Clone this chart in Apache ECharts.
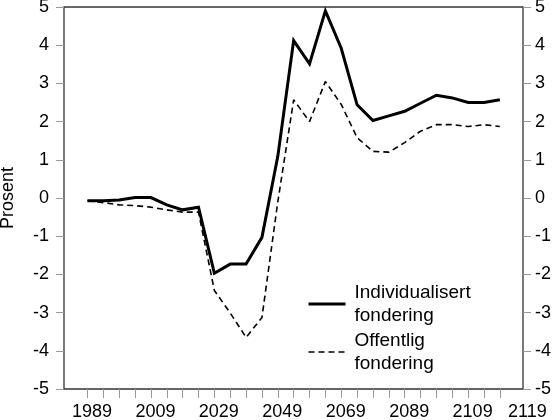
<!DOCTYPE html>
<html>
<head>
<meta charset="utf-8">
<script src="https://cdn.jsdelivr.net/npm/echarts@6/dist/echarts.min.js"></script>
<style>
  html, body { margin: 0; padding: 0; background: #fff; }
  #chart { width: 554px; height: 420px; }
</style>
</head>
<body>
<div id="chart"></div>
<script>
// år (hvert 5. år)
const years = [1989, 1994, 1999, 2004, 2009, 2014, 2019, 2024, 2029, 2034, 2039, 2044, 2049, 2054,
  2059, 2064, 2069, 2074, 2079, 2084, 2089, 2094, 2099, 2104, 2109, 2114, 2119]
const individualisert = [-0.07, -0.07, -0.05, 0.01, 0.01, -0.18, -0.31, -0.24, -1.97, -1.73, -1.73, -1.03, 1.09, 4.12,
  3.51, 4.90, 3.92, 2.44, 2.03, 2.15, 2.27, 2.48, 2.69, 2.62, 2.50, 2.50, 2.57]
const offentlig = [-0.07, -0.12, -0.18, -0.20, -0.24, -0.31, -0.37, -0.37, -2.42, -3.01, -3.65, -3.13, -0.10, 2.57,
  2.00, 3.05, 2.45, 1.58, 1.22, 1.20, 1.45, 1.75, 1.92, 1.92, 1.87, 1.92, 1.87]
const xLabels = [1989, 2009, 2029, 2049, 2069, 2089, 2109, 2119]

const font = "'Liberation Sans', Arial, sans-serif"
const tickColor = '#999'

const chart = echarts.init(document.getElementById('chart'))

const yAxisBase = {
  type: 'value',
  min: -5,
  max: 5,
  interval: 1,
  axisLine: {show: false},
  axisTick: {show: true, inside: false, length: 8, lineStyle: {color: tickColor}},
  splitLine: {show: false},
  axisLabel: {fontFamily: font, fontSize: 18, color: '#000'}
}

chart.setOption({
  animation: false,
  grid: {
    left: 64, right: 31, top: 7, bottom: 31,
    outerBoundsMode: 'none',
    containLabel: false,
    show: true, borderColor: '#333', borderWidth: 1.3, backgroundColor: '#fff'
  },
  legend: {
    orient: 'vertical',
    left: 302,
    top: 276,
    itemWidth: 37,
    itemHeight: 14,
    itemGap: 2,
    itemStyle: {opacity: 0},
    lineStyle: {width: 'inherit', type: 'inherit'},
    textStyle: {fontFamily: font, fontSize: 19, lineHeight: 23, color: '#000', padding: [0, 0, 0, 4]},
    data: ['Individualisert\nfondering', 'Offentlig\nfondering']
  },
  xAxis: {
    type: 'value',
    min: 1981.6,
    max: 2126.3,
    axisLine: {show: false, onZero: false},
    splitLine: {show: false},
    axisTick: {show: true, length: 9, lineStyle: {color: tickColor}, customValues: years},
    axisLabel: {
      customValues: xLabels,
      margin: 14,
      fontFamily: font,
      fontSize: 18,
      color: '#000',
      formatter: v => v === 2119 ? '{e|' + v + '}' : '{a|' + v + '}',
      rich: {
        a: {fontFamily: font, fontSize: 18, color: '#000', padding: [0, 0, 0, 9]},
        e: {fontFamily: font, fontSize: 18, color: '#000', padding: [0, 0, 0, 55]}
      }
    }
  },
  yAxis: [
    Object.assign({}, yAxisBase, {
      position: 'left',
      name: 'Prosent',
      nameLocation: 'middle',
      nameGap: 47,
      nameTextStyle: {fontFamily: font, fontSize: 18, color: '#000'},
      axisLabel: Object.assign({}, yAxisBase.axisLabel, {margin: 15})
    }),
    Object.assign({}, yAxisBase, {
      position: 'right',
      axisLabel: Object.assign({}, yAxisBase.axisLabel, {margin: 12})
    })
  ],
  series: [
    {
      name: 'Individualisert\nfondering',
      type: 'line',
      symbol: 'none',
      data: years.map((y, i) => [y, individualisert[i]]),
      lineStyle: {color: '#000', width: 3, join: 'miter'},
      itemStyle: {color: '#000'}
    },
    {
      name: 'Offentlig\nfondering',
      type: 'line',
      symbol: 'none',
      data: years.map((y, i) => [y, offentlig[i]]),
      lineStyle: {color: '#000', width: 1.6, type: [6, 4]},
      itemStyle: {color: '#000'}
    }
  ]
})
</script>
</body>
</html>
